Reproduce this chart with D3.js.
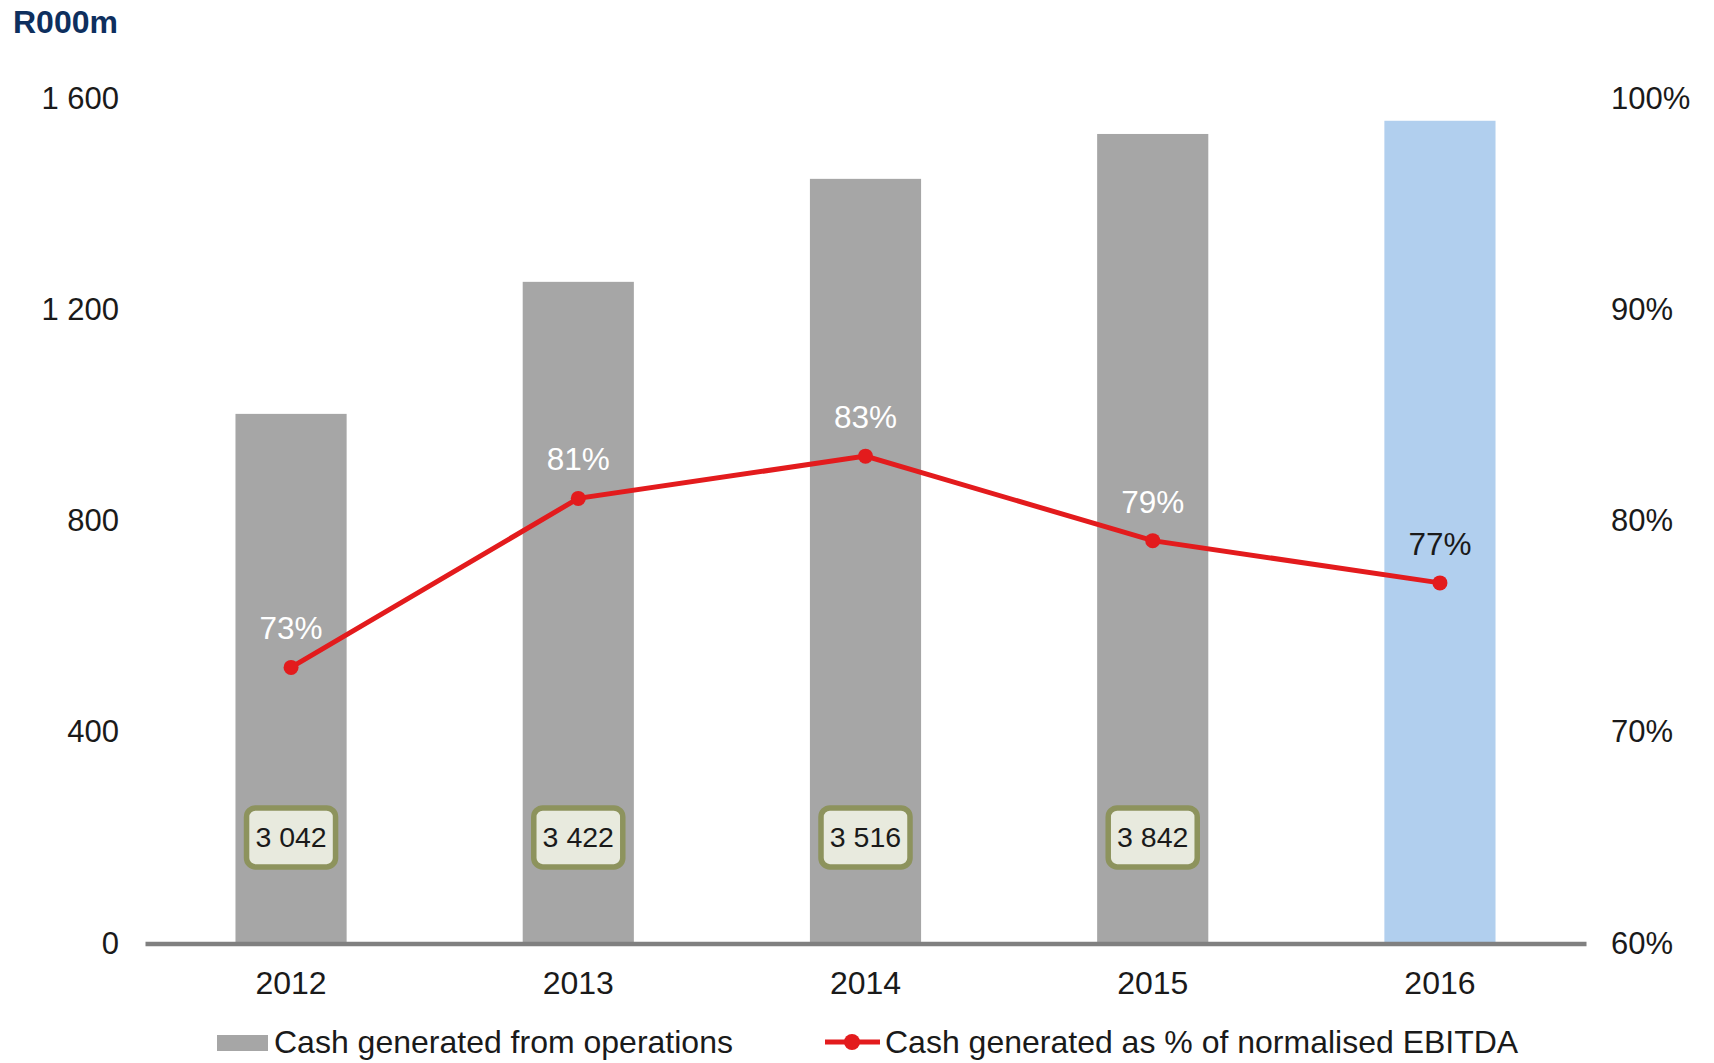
<!DOCTYPE html>
<html>
<head>
<meta charset="utf-8">
<script src="https://cdn.jsdelivr.net/npm/d3@7"></script>
<style>
  body { margin: 0; background: #fff; }
  svg { display: block; font-family: "Liberation Sans", Arial, sans-serif; }
</style>
</head>
<body>
<svg id="chart" width="1714" height="1063"></svg>
<script>
const years = ["2012", "2013", "2014", "2015", "2016"]
const cashGenerated = [1000, 1250, 1445, 1530, 1555]
const cashPct = [73, 81, 83, 79, 77]
const ebitdaBoxes = ["3 042", "3 422", "3 516", "3 842"]
const leftTicks = [0, 400, 800, 1200, 1600]
const rightTicks = [60, 70, 80, 90, 100]
const forecastYear = "2016"

const GREY = "#a6a6a6",
    BLUE = "#b1cfee",
    RED = "#e31b1d",
    TEXT = "#1a1a1a"

const svg = d3.select("#chart")

const x = d3.scaleBand()
    .domain(years)
    .range([145, 1586])
    .paddingInner(0.613)
    .paddingOuter(0.315)

const y = d3.scaleLinear().domain([0, 1600]).range([942, 97])
const yPct = d3.scaleLinear().domain([60, 100]).range([942, 97])

const fmtSpace = d3.formatLocale({decimal: ".", thousands: " ", grouping: [3], currency: ["", ""]}).format(",")

// unit title
svg.append("text")
    .attr("x", 13)
    .attr("y", 33)
    .text("R000m")
    .style("font-size", "32px")
    .style("font-weight", "bold")
    .style("fill", "#0e2f5e")

// bars
svg.append("g")
    .selectAll("rect")
    .data(years)
    .join("rect")
    .attr("x", d => x(d))
    .attr("width", x.bandwidth())
    .attr("y", (d, i) => y(cashGenerated[i]))
    .attr("height", (d, i) => y(0) - y(cashGenerated[i]))
    .style("fill", d => d === forecastYear ? BLUE : GREY)

// left axis
svg.append("g")
    .attr("transform", "translate(119, 0)")
    .call(d3.axisLeft(y).tickValues(leftTicks).tickFormat(fmtSpace).tickSize(0).tickPadding(0))
    .call(g => g.select(".domain").remove())

// right axis
svg.append("g")
    .attr("transform", "translate(1611, 0)")
    .call(d3.axisRight(yPct).tickValues(rightTicks).tickFormat(d => d + "%").tickSize(0).tickPadding(0))
    .call(g => g.select(".domain").remove())

svg.selectAll("g.tick text")
    .attr("dy", "0.36em")
    .style("font-size", "31px")
    .style("fill", TEXT)
    .style("font-family", "'Liberation Sans', Arial, sans-serif")

// bottom axis
const xAxis = svg.append("g")
    .attr("transform", `translate(0, ${y(0) + 1.5})`)
    .call(d3.axisBottom(x).tickSize(0).tickPadding(0))

xAxis.select(".domain")
    .style("stroke", "#808080")
    .style("stroke-width", 4.5)

xAxis.selectAll(".tick text")
    .attr("y", 50)
    .attr("dy", 0)
    .style("font-size", "32px")
    .style("fill", TEXT)
    .style("font-family", "'Liberation Sans', Arial, sans-serif")

// EBITDA boxes
const boxes = svg.append("g")
    .selectAll("g")
    .data(ebitdaBoxes)
    .join("g")
    .attr("transform", (d, i) => `translate(${x(years[i]) + x.bandwidth() / 2}, ${y(198)})`)

boxes.append("rect")
    .attr("x", -44.5)
    .attr("y", -29.5)
    .attr("width", 89)
    .attr("height", 59)
    .attr("rx", 9)
    .style("fill", "#e8eade")
    .style("stroke", "#8d935d")
    .style("stroke-width", 5.5)

boxes.append("text")
    .attr("text-anchor", "middle")
    .attr("y", 9.5)
    .text(d => d)
    .style("font-size", "28.5px")
    .style("fill", TEXT)

// percentage line
const cx = d => x(d) + x.bandwidth() / 2

svg.append("path")
    .datum(years)
    .attr("d", d3.line().x(cx).y((d, i) => yPct(cashPct[i])))
    .style("fill", "none")
    .style("stroke", RED)
    .style("stroke-width", 5)

svg.append("g")
    .selectAll("circle")
    .data(years)
    .join("circle")
    .attr("cx", cx)
    .attr("cy", (d, i) => yPct(cashPct[i]))
    .attr("r", 7.5)
    .style("fill", RED)

svg.append("g")
    .selectAll("text")
    .data(years)
    .join("text")
    .attr("x", cx)
    .attr("y", (d, i) => yPct(cashPct[i]) - 28)
    .attr("text-anchor", "middle")
    .text((d, i) => cashPct[i] + "%")
    .style("font-size", "31.5px")
    .style("fill", d => d === forecastYear ? TEXT : "#ffffff")

// legend
const legend = svg.append("g")

legend.append("rect")
    .attr("x", 217)
    .attr("y", 1035)
    .attr("width", 51)
    .attr("height", 16)
    .style("fill", GREY)

legend.append("text")
    .attr("x", 274)
    .attr("y", 1053)
    .text("Cash generated from operations")
    .style("font-size", "32px")
    .style("fill", TEXT)

legend.append("line")
    .attr("x1", 825)
    .attr("x2", 880)
    .attr("y1", 1042)
    .attr("y2", 1042)
    .style("stroke", RED)
    .style("stroke-width", 5)

legend.append("circle")
    .attr("cx", 852)
    .attr("cy", 1042)
    .attr("r", 8)
    .style("fill", RED)

legend.append("text")
    .attr("x", 885)
    .attr("y", 1053)
    .text("Cash generated as % of normalised EBITDA")
    .style("font-size", "32px")
    .style("fill", TEXT)
</script>
</body>
</html>
